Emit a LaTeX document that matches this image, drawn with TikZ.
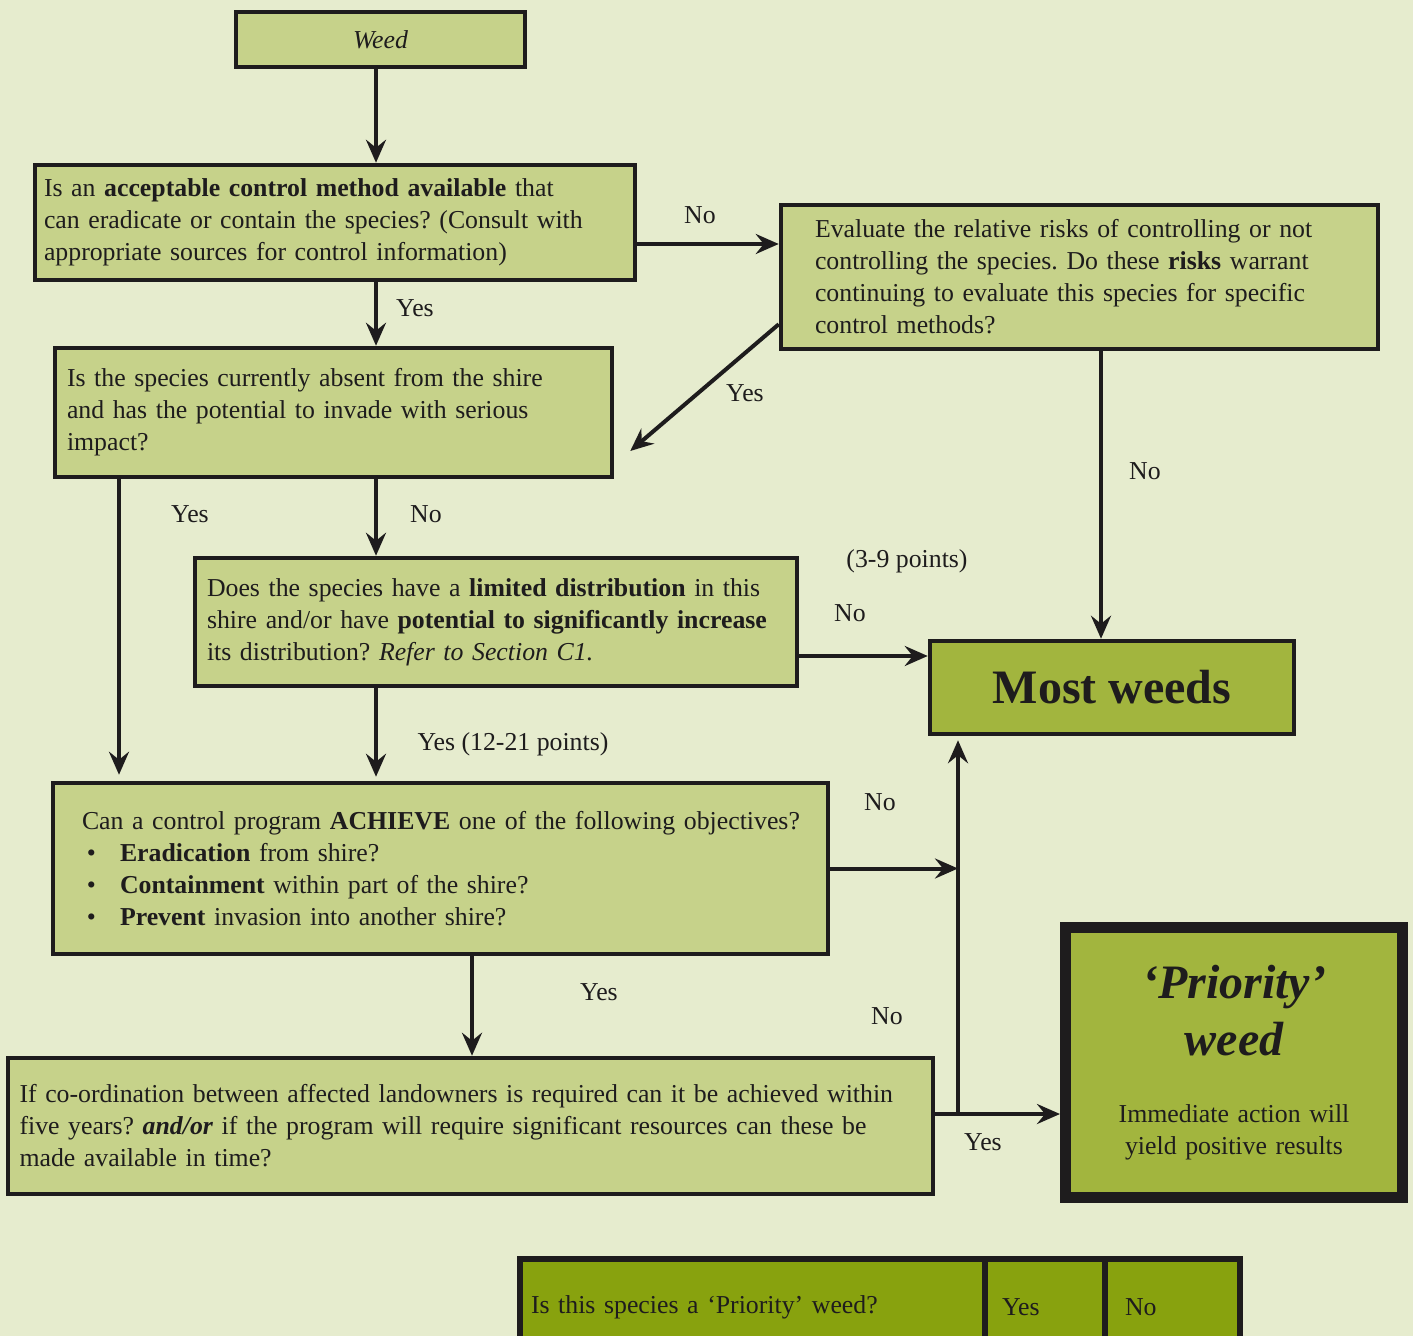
\documentclass[tikz,border=0pt]{standalone}
\usepackage{fontspec}
\setmainfont{Liberation Serif}
\usetikzlibrary{arrows.meta,calc}

\definecolor{bgcol}{HTML}{E6ECCE}
\definecolor{boxcol}{HTML}{C6D28A}
\definecolor{darkcol}{HTML}{A2B53E}
\definecolor{tablecol}{HTML}{88A20E}
\definecolor{inkcol}{HTML}{1E1C1D}
\frenchspacing

\begin{document}
\begin{tikzpicture}[x=0.5pt, y=-0.5pt,
    txt/.style={font=\fontsize{12.9}{16}\selectfont, text=inkcol},
    qbox/.style={txt, draw=inkcol, fill=boxcol, line width=2.25pt, align=left, inner ysep=0pt},
    cell/.style={txt, draw=inkcol, fill=tablecol, line width=3pt, align=left, minimum height=48pt, inner ysep=0pt},
    arr/.style={draw=inkcol, line width=2pt, -{Stealth[length=11.5pt, width=10pt, inset=4pt]}},
    lbl/.style={txt, inner sep=0pt}]
            \useasboundingbox (0, 0) rectangle (1413, 1336);
            \fill[bgcol] (0, 0) rectangle (1413, 1336);
            \clip (0, 0) rectangle (1413, 1336);

            % question boxes
            \node (weed) at (380.5, 39.5) [qbox, align=center, minimum width=144.5pt, minimum height=27.5pt,
                font=\fontsize{12.9}{16}\selectfont\itshape] {Weed};
            \node (ctrl) at (335, 222.5) [qbox, text width=291pt, inner xsep=4.5pt, minimum height=57.5pt]
                {Is an \textbf{acceptable control method available} that\\
                 can eradicate or contain the species? (Consult with\\
                 appropriate sources for control information)};
            \node (risk) at (1079.5, 277) [qbox, text width=264.5pt, inner xsep=17pt, minimum height=72pt]
                {Evaluate the relative risks of controlling or not\\
                 controlling the species. Do these \textbf{risks} warrant\\
                 continuing to evaluate this species for specific\\
                 control methods?};
            \node (absent) at (333.5, 412.5) [qbox, text width=266.5pt, inner xsep=6pt, minimum height=64.5pt]
                {Is the species currently absent from the shire\\
                 and has the potential to invade with serious\\
                 impact?};
            \node (limited) at (496, 622) [qbox, text width=289pt, inner xsep=6pt, minimum height=64pt]
                {Does the species have a \textbf{limited distribution} in this\\
                 shire and/or have \textbf{potential to significantly increase}\\
                 its distribution? \textit{Refer to Section C1.}};
            \node (achieve) at (440.5, 868.5) [qbox, text width=380pt, inner xsep=3.75pt, minimum height=85.5pt]
                {\hspace*{10.75pt}Can a control program \textbf{ACHIEVE} one of the following objectives?\\
                 \hspace*{13.25pt}\makebox[16.5pt][l]{\textbullet}\textbf{Eradication} from shire?\\
                 \hspace*{13.25pt}\makebox[16.5pt][l]{\textbullet}\textbf{Containment} within part of the shire?\\
                 \hspace*{13.25pt}\makebox[16.5pt][l]{\textbullet}\textbf{Prevent} invasion into another shire?};
            \node (coord) at (470.5, 1126) [qbox, text width=451pt, inner xsep=5.75pt, minimum height=68pt]
                {If co-ordination between affected landowners is required can it be achieved within\\
                 five years? \textbf{\textit{and/or}} if the program will require significant resources can these be\\
                 made available in time?};

            % outcomes
            \node (most) at (1112, 687.5) [qbox, fill=darkcol, align=center, minimum width=182pt, minimum height=46.5pt,
                font=\fontsize{24}{28}\selectfont\bfseries] {Most weeds};
            \node (prio) at (1234, 1062.5) [qbox, fill=darkcol, line width=5.5pt, align=center, text width=160pt,
                inner xsep=4.25pt, minimum height=135pt]
                {{\fontsize{24}{28.5}\selectfont\bfseries\itshape ‘Priority’\\ weed\par}\vspace{17.5pt}%
                 {\fontsize{12.9}{16}\selectfont Immediate action will\\ yield positive results\par}};

            % table at the foot
            \node (tq) at (752.5, 1307) [cell, text width=221.5pt, inner xsep=5.5pt] {Is this species a ‘Priority’ weed?};
            \node (tyes) at (1045, 1307) [cell, text width=43pt, inner xsep=8.5pt] {Yes};
            \node (tno) at (1172.5, 1307) [cell, text width=47.5pt, inner xsep=10pt] {No};

            % columns and junction
            \coordinate (spine) at (376, 0);
            \coordinate (yescol) at (119, 0);
            \coordinate (nocol) at (1101, 0);
            \coordinate (achcol) at (472, 0);
            \coordinate (jn) at (958, 1114);

            % connectors
            \draw[arr] (weed.south -| spine) -- (ctrl.north -| spine);
            \draw[arr] ($(ctrl.east)+(0, 21.5)$) -- ($(risk.west)+(0, -33)$);
            \draw[arr] ($(risk.south west)+(0, -27)$) -- ($(absent.east)+(16, 38.5)$);
            \draw[arr] (risk.south -| nocol) -- (most.north -| nocol);
            \draw[arr] (ctrl.south -| spine) -- (absent.north -| spine);
            \draw[arr] (absent.south -| yescol) -- ($(achieve.north -| yescol)+(0, -6)$);
            \draw[arr] (absent.south -| spine) -- (limited.north -| spine);
            \draw[arr] ($(limited.east)+(0, 34)$) -- ($(most.west)+(0, -31.5)$);
            \draw[arr] (limited.south -| spine) -- ($(achieve.north -| spine)+(0, -4)$);
            \draw[arr] (achieve.east) -- (jn |- achieve.east);
            \draw[arr] (achieve.south -| achcol) -- (coord.north -| achcol);
            \draw[arr] ($(coord.east)+(0, -12)$) -- ($(prio.west)+(0, 51.5)$);
            \draw[arr] (jn) -- ($(jn |- most.south)+(0, 4)$);

            % labels
            \node (l1) at (700, 215) [lbl] {No};
            \node (l2) at (415, 308) [lbl] {Yes};
            \node (l3) at (745, 393) [lbl] {Yes};
            \node (l4) at (1145, 471) [lbl] {No};
            \node (l5) at (190, 514) [lbl] {Yes};
            \node (l6) at (426, 514) [lbl] {No};
            \node (l7) at (907, 561) [lbl] {(3-9 points)};
            \node (l8) at (850, 613) [lbl] {No};
            \node (l9) at (513, 744) [lbl] {Yes (12-21 points)};
            \node (l10) at (880, 802) [lbl] {No};
            \node (l11) at (599, 992) [lbl] {Yes};
            \node (l12) at (887, 1016) [lbl] {No};
            \node (l13) at (983, 1142) [lbl] {Yes};
        \end{tikzpicture}
\end{document}
